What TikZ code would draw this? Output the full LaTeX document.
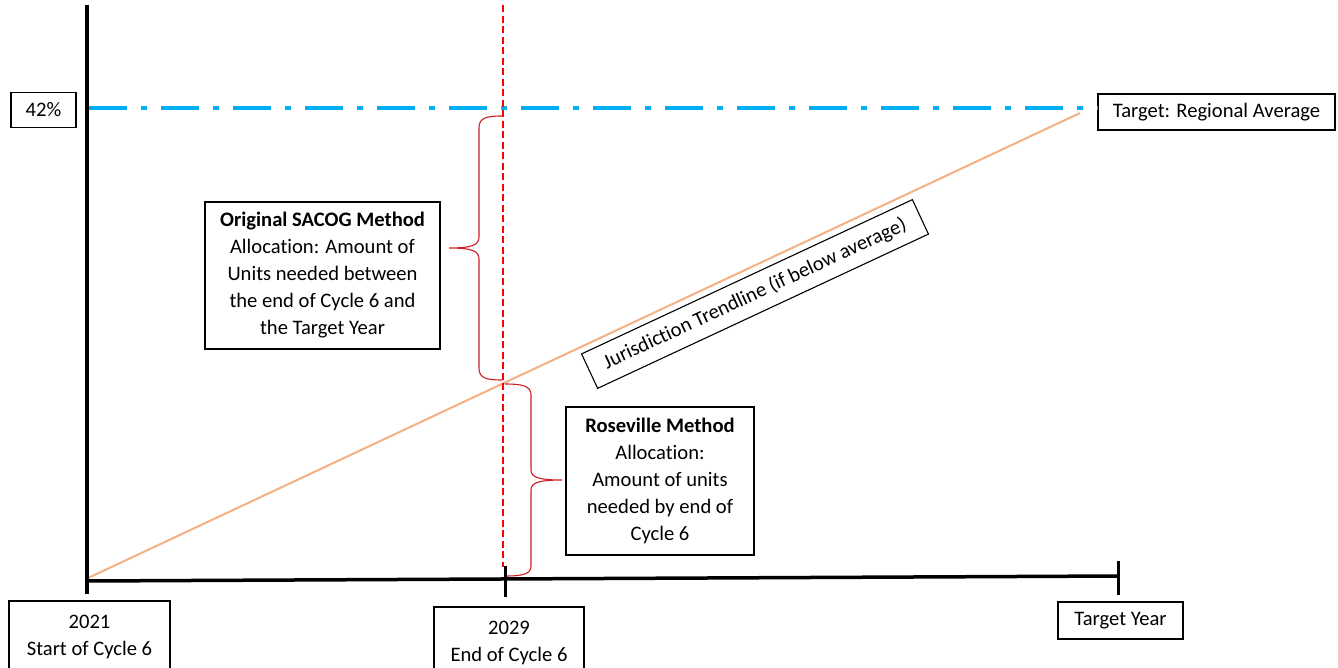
\documentclass[tikz,border=0pt]{standalone}
\usepackage{fontspec}
\setmainfont{Carlito}[Ligatures=NoCommon]
\definecolor{skyblue}{RGB}{0,176,240}
\definecolor{trendorange}{RGB}{244,177,131}
\definecolor{bracered}{RGB}{205,30,35}
\begin{document}
\begin{tikzpicture}[x=1pt,y=-1pt,
  box/.style={draw=black,line width=1.1pt,fill=white,align=center,inner sep=0pt,font=\fontsize{20.6}{27}\selectfont},
  axisline/.style={draw=black,line width=3.5pt},
  tickline/.style={draw=black,line width=3pt},
  blueline/.style={draw=skyblue,line width=4pt,dash pattern=on 38pt off 14pt on 6pt off 14pt},
  redline/.style={draw=red,line width=2.2pt,dash pattern=on 7pt off 3.5pt},
  trendline/.style={draw=trendorange,line width=2pt},
  bracepath/.style={draw=bracered,line width=1.1pt}]
\clip (0,0) rectangle (1338,667);
\fill[white] (0,0) rectangle (1338,667);
% coordinates
\coordinate (vtop) at (87,5);
\coordinate (vbot) at (87,594);
\coordinate (hl) at (86,581);
\coordinate (hr) at (1118,576);
\coordinate (rtop) at (503,5);
\coordinate (rbot) at (503,567);
\coordinate (tka) at (505,566);
\coordinate (tkb) at (505,597);
\coordinate (tta) at (1118,561);
\coordinate (ttb) at (1118,595);
\coordinate (bl) at (89,108);
\coordinate (os) at (88,578);
\coordinate (oe) at (1080,113);
% nodes
\node[box,minimum width=65,minimum height=35] (p42) at (43.5,110) {42\%};
\node[box,minimum width=237,minimum height=36] (target) at (1216.5,112) {Target: Regional Average};
% lines
\draw[blueline] (bl) -- (bl -| target.west);
\draw[trendline] (os) -- (oe);
\draw[redline] (rtop) -- (rbot);
% braces
\draw[bracepath] (502,116) .. controls (486,116) and (479,118) .. (479,128) -- (479,237)
  .. controls (479,245) and (472,248) .. (449,248)
  .. controls (472,248) and (479,251) .. (479,259) -- (479,368)
  .. controls (479,378) and (486,380) .. (502,380);
\draw[bracepath] (505,384) .. controls (523,384) and (531,386) .. (531,395) -- (531,470)
  .. controls (531,477) and (538,480) .. (562,480)
  .. controls (538,480) and (531,483) .. (531,490) -- (531,566)
  .. controls (531,574) and (523,576) .. (505,576);
% axes
\draw[axisline] (vtop) -- (vbot);
\draw[axisline] (hl) -- (hr);
\draw[tickline] (tka) -- (tkb);
\draw[tickline] (tta) -- (ttb);
% text boxes
\node[box,minimum width=235,minimum height=147] (sacog) at (322.5,275.5)
  {\textbf{Original SACOG Method}\\Allocation: Amount of\\Units needed between\\the end of Cycle 6 and\\the Target Year};
\node[box,minimum width=188,minimum height=148] (rose) at (660,481)
  {\textbf{Roseville Method}\\Allocation:\\Amount of units\\needed by end of\\Cycle 6};
\node[box,minimum width=365,minimum height=38,rotate=25] (trend) at (755,294)
  {Jurisdiction Trendline (if below average)};
\node[box,minimum width=161,minimum height=72] (y21) at (89.5,637) {2021\\Start of Cycle 6};
\node[box,minimum width=150,minimum height=72] (y29) at (509,643) {2029\\End of Cycle 6};
\node[box,minimum width=125,minimum height=37] (ty) at (1120.5,620.5) {Target Year};
\end{tikzpicture}
\end{document}
